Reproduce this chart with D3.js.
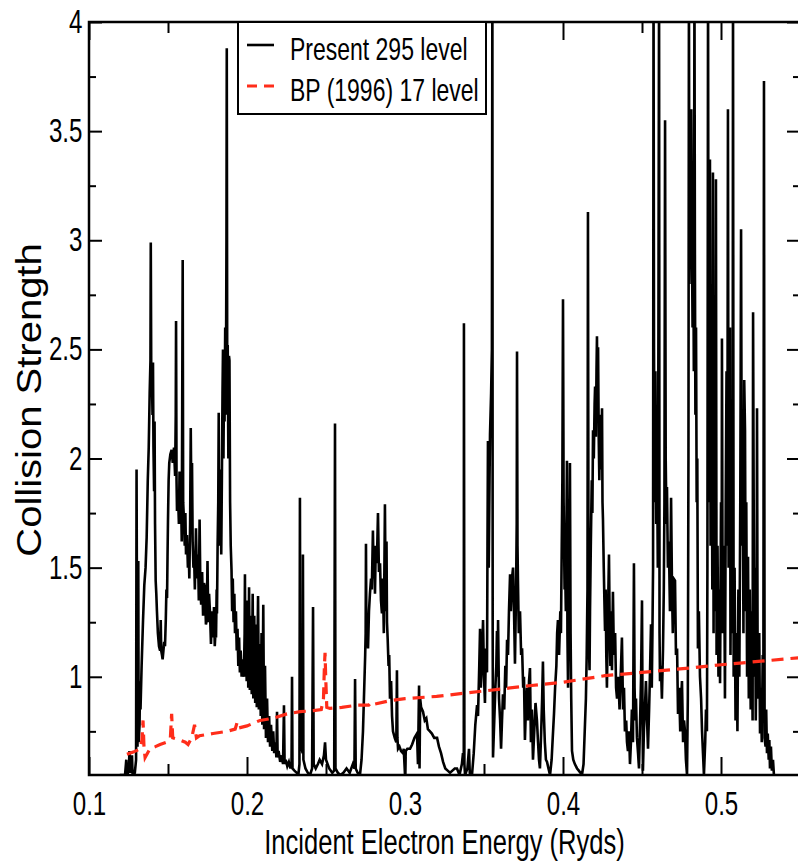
<!DOCTYPE html>
<html lang="en">
<head>
<meta charset="utf-8">
<title>Collision Strength</title>
<script src="https://d3js.org/d3.v7.min.js"></script>
<style>
    body { margin: 0; background: #fff; }
    svg text { font-family: "Liberation Sans", Arial, Helvetica, sans-serif; fill: #000; }
    .frame { fill: none; stroke: #000; stroke-width: 2.5px; }
    .tick line { stroke: #000; stroke-width: 2px; }
    .domain { display: none; }
    .present { fill: none; stroke: #000; stroke-width: 2.6px; }
    .bp { fill: none; stroke: #ff2d1a; stroke-width: 3.2px; stroke-dasharray: 12 7; }
</style>
</head>
<body>
<div id="chart"></div>
<script>
var xTicks = [0.1, 0.2, 0.3, 0.4, 0.5];
var xMinor = [0.15, 0.25, 0.35, 0.45];
var yTicks = [1, 1.5, 2, 2.5, 3, 3.5, 4];
var yMinor = [0.75, 1.25, 1.75, 2.25, 2.75, 3.25, 3.75];
var legendLabels = ["Present 295 level", "BP (1996) 17 level"];

// [energy (Ryd), collision strength]
var present295 = [
[0.1195,0.55],[0.1228,0.55],[0.1236,0.62],[0.1241,0.55],[0.1252,0.57],[0.1256,0.66],[0.1260,0.56],[0.1268,0.60],[0.1272,0.64],[0.1276,0.55],
[0.1290,0.56],[0.1298,0.62],[0.1301,1.95],[0.1304,1.20],[0.1307,0.68],[0.1312,1.53],[0.1314,0.70],[0.1320,0.78],[0.1323,0.98],[0.1326,0.85],
[0.1333,1.05],[0.1342,1.26],[0.1350,1.42],[0.1358,1.50],[0.1365,1.64],[0.1372,1.90],[0.1378,2.05],[0.1384,2.30],[0.1389,2.45],[0.1391,2.99],
[0.1394,2.40],[0.1398,2.38],[0.1402,2.20],[0.1405,2.44],[0.1408,2.05],[0.1412,1.85],[0.1415,2.17],[0.1418,1.70],[0.1422,1.44],[0.1426,1.38],
[0.1430,1.30],[0.1436,1.20],[0.1443,1.14],[0.1450,1.12],[0.1454,1.26],[0.1457,1.12],[0.1462,1.10],[0.1466,1.08],[0.1471,1.12],[0.1476,1.16],
[0.1481,1.14],[0.1486,1.26],[0.1490,1.40],[0.1494,1.36],[0.1497,1.55],[0.1500,1.72],[0.1504,1.90],[0.1508,1.98],[0.1515,2.02],[0.1523,2.04],
[0.1530,1.98],[0.1538,2.05],[0.1545,1.92],[0.1549,2.20],[0.1551,2.63],[0.1554,1.90],[0.1557,1.76],[0.1563,1.84],[0.1569,1.70],[0.1573,1.94],
[0.1577,1.78],[0.1582,1.86],[0.1587,1.62],[0.1590,2.25],[0.1593,2.91],[0.1596,1.80],[0.1601,1.72],[0.1606,1.60],[0.1610,1.75],[0.1614,1.56],
[0.1620,1.65],[0.1626,1.50],[0.1630,1.60],[0.1635,1.45],[0.1640,1.70],[0.1644,2.14],[0.1648,1.80],[0.1652,1.98],[0.1656,1.62],[0.1661,1.50],
[0.1665,1.56],[0.1670,1.40],[0.1677,1.68],[0.1683,1.45],[0.1690,1.56],[0.1695,1.35],[0.1700,1.72],[0.1705,1.40],[0.1710,1.33],[0.1716,1.48],
[0.1722,1.28],[0.1728,1.43],[0.1734,1.41],[0.1740,1.24],[0.1745,1.26],[0.1750,1.53],[0.1755,1.25],[0.1760,1.38],[0.1766,1.29],[0.1772,1.15],
[0.1778,1.30],[0.1783,1.18],[0.1788,1.22],[0.1791,1.32],[0.1796,1.14],[0.1800,1.20],[0.1804,1.18],[0.1808,1.40],[0.1810,1.29],[0.1814,1.60],
[0.1818,1.80],[0.1821,2.21],[0.1824,1.60],[0.1827,1.95],[0.1830,1.72],[0.1834,1.85],[0.1837,1.56],[0.1841,1.90],[0.1845,2.30],[0.1848,2.50],
[0.1851,2.00],[0.1855,2.40],[0.1858,2.17],[0.1862,2.60],[0.1866,2.20],[0.1870,3.00],[0.1872,3.88],[0.1875,2.30],[0.1878,2.52],[0.1882,2.00],
[0.1886,2.47],[0.1889,2.45],[0.1893,1.80],[0.1897,1.60],[0.1902,1.49],[0.1906,1.30],[0.1910,1.45],[0.1915,1.25],[0.1920,1.38],[0.1924,1.20],
[0.1930,1.30],[0.1935,1.12],[0.1940,1.22],[0.1945,1.05],[0.1950,1.18],[0.1955,1.02],[0.1960,1.12],[0.1966,1.00],[0.1972,1.08],[0.1980,1.00],
[0.1985,1.20],[0.1987,1.47],[0.1990,1.00],[0.1995,1.10],[0.1998,0.98],[0.2004,1.35],[0.2008,0.95],[0.2013,1.41],[0.2018,0.94],[0.2024,1.28],
[0.2030,0.92],[0.2036,1.38],[0.2040,0.90],[0.2046,1.28],[0.2052,0.88],[0.2057,1.24],[0.2062,0.86],[0.2070,1.37],[0.2075,0.85],[0.2080,1.15],
[0.2087,0.82],[0.2092,1.20],[0.2097,0.78],[0.2103,1.33],[0.2108,0.76],[0.2114,1.05],[0.2120,0.72],[0.2127,0.90],[0.2133,0.70],[0.2140,0.82],
[0.2146,0.68],[0.2152,0.78],[0.2160,0.66],[0.2166,0.75],[0.2172,0.65],[0.2180,0.70],[0.2186,0.63],[0.2190,0.84],[0.2194,0.63],[0.2200,0.66],
[0.2210,0.61],[0.2220,0.64],[0.2228,0.60],[0.2234,0.87],[0.2238,0.60],[0.2245,0.62],[0.2255,0.59],[0.2265,0.61],[0.2275,0.58],[0.2282,0.60],
[0.2285,1.00],[0.2288,0.58],[0.2300,0.57],[0.2315,0.56],[0.2325,0.55],[0.2332,0.60],[0.2335,1.82],[0.2338,0.70],[0.2352,0.65],[0.2354,1.56],
[0.2357,0.62],[0.2370,0.58],[0.2385,0.56],[0.2399,0.55],[0.2412,0.58],[0.2418,1.32],[0.2422,0.60],[0.2435,0.58],[0.2449,0.60],[0.2460,0.62],
[0.2475,0.60],[0.2487,0.64],[0.2494,0.70],[0.2500,0.62],[0.2520,0.58],[0.2540,0.56],[0.2552,0.57],[0.2557,2.16],[0.2560,0.58],[0.2575,0.56],
[0.2590,0.55],[0.2610,0.56],[0.2630,0.58],[0.2650,0.56],[0.2670,0.60],[0.2680,0.58],[0.2684,0.99],[0.2688,0.58],[0.2700,0.56],[0.2715,0.55],
[0.2725,0.62],[0.2734,0.75],[0.2740,0.90],[0.2748,1.10],[0.2751,1.20],[0.2753,1.61],[0.2756,1.15],[0.2762,1.25],[0.2766,1.13],[0.2772,1.30],
[0.2778,1.38],[0.2785,1.45],[0.2790,1.40],[0.2797,1.67],[0.2802,1.45],[0.2806,1.55],[0.2810,1.38],[0.2815,1.60],[0.2822,1.52],[0.2829,1.75],
[0.2835,1.48],[0.2842,1.52],[0.2848,1.35],[0.2854,1.29],[0.2860,1.45],[0.2866,1.20],[0.2873,1.79],[0.2878,1.30],[0.2883,1.62],[0.2886,1.25],
[0.2890,1.18],[0.2896,1.05],[0.2900,1.10],[0.2905,0.90],[0.2912,0.98],[0.2918,0.82],[0.2924,0.75],[0.2935,0.72],[0.2945,0.70],[0.2949,1.03],
[0.2952,0.72],[0.2956,0.67],[0.2965,0.68],[0.2975,0.66],[0.2987,0.65],[0.2992,0.67],[0.3000,0.55],[0.3005,0.66],[0.3015,0.67],[0.3032,0.67],
[0.3045,0.69],[0.3060,0.72],[0.3076,0.74],[0.3082,0.60],[0.3089,0.96],[0.3092,0.58],[0.3096,0.90],[0.3102,0.86],[0.3114,0.84],[0.3125,0.80],
[0.3135,0.81],[0.3145,0.76],[0.3158,0.75],[0.3170,0.74],[0.3185,0.72],[0.3203,0.72],[0.3215,0.68],[0.3228,0.65],[0.3241,0.61],[0.3255,0.58],
[0.3270,0.57],[0.3285,0.56],[0.3300,0.57],[0.3315,0.58],[0.3329,0.58],[0.3345,0.55],[0.3360,0.60],[0.3367,0.65],[0.3372,0.62],[0.3373,2.62],
[0.3376,0.60],[0.3380,0.55],[0.3395,0.58],[0.3405,0.67],[0.3410,0.56],[0.3424,0.55],[0.3435,0.65],[0.3445,0.78],[0.3456,0.87],[0.3462,0.82],
[0.3470,1.05],[0.3475,1.22],[0.3480,0.95],[0.3488,1.10],[0.3494,1.26],[0.3500,1.00],[0.3506,0.88],[0.3512,1.13],[0.3519,1.02],[0.3522,1.60],
[0.3525,2.08],[0.3530,1.50],[0.3535,1.90],[0.3538,2.11],[0.3545,2.30],[0.3550,2.50],[0.3553,4.20],[0.3555,1.20],[0.3557,0.63],[0.3565,0.80],
[0.3572,0.95],[0.3578,1.05],[0.3582,1.21],[0.3586,1.00],[0.3589,1.26],[0.3595,0.90],[0.3602,0.80],[0.3608,0.67],[0.3614,0.80],[0.3620,0.92],
[0.3628,0.85],[0.3635,1.05],[0.3640,0.95],[0.3646,1.17],[0.3652,1.10],[0.3658,1.30],[0.3665,1.47],[0.3670,1.30],[0.3677,1.45],[0.3684,1.50],
[0.3690,1.30],[0.3696,1.06],[0.3703,1.40],[0.3707,1.70],[0.3709,2.49],[0.3712,1.60],[0.3715,1.44],[0.3720,1.20],[0.3728,1.30],[0.3735,1.10],
[0.3741,1.13],[0.3748,0.95],[0.3753,1.00],[0.3759,0.71],[0.3765,0.85],[0.3772,0.95],[0.3778,0.80],[0.3785,0.98],[0.3791,1.04],[0.3797,0.70],
[0.3803,0.85],[0.3810,0.62],[0.3818,0.75],[0.3826,0.88],[0.3835,0.80],[0.3842,0.70],[0.3848,0.62],[0.3854,0.58],[0.3862,0.75],[0.3868,0.90],
[0.3873,1.07],[0.3878,0.85],[0.3885,0.70],[0.3892,0.62],[0.3899,0.61],[0.3908,0.58],[0.3918,0.55],[0.3928,0.62],[0.3935,0.72],[0.3943,0.83],
[0.3950,0.95],[0.3958,1.05],[0.3963,1.20],[0.3968,1.26],[0.3975,1.10],[0.3983,1.30],[0.3987,1.20],[0.3992,1.60],[0.3996,1.90],[0.4000,2.73],
[0.4004,1.80],[0.4010,1.40],[0.4013,1.52],[0.4018,1.30],[0.4022,1.70],[0.4025,1.99],[0.4028,1.20],[0.4032,0.95],[0.4036,1.40],[0.4040,1.60],
[0.4044,1.98],[0.4048,1.20],[0.4052,0.90],[0.4057,0.66],[0.4065,0.62],[0.4075,0.60],[0.4089,0.58],[0.4100,0.57],[0.4110,0.56],[0.4120,0.55],
[0.4130,0.60],[0.4139,0.78],[0.4145,0.90],[0.4150,1.10],[0.4155,1.40],[0.4158,3.13],[0.4162,1.20],[0.4168,1.03],[0.4171,1.30],[0.4176,1.60],
[0.4182,1.90],[0.4186,1.75],[0.4190,2.13],[0.4195,2.00],[0.4200,2.25],[0.4203,2.33],[0.4208,2.10],[0.4212,2.40],[0.4215,2.56],[0.4218,2.20],
[0.4222,2.51],[0.4226,2.10],[0.4230,1.90],[0.4234,2.20],[0.4238,1.95],[0.4243,2.00],[0.4247,2.23],[0.4250,1.80],[0.4253,1.72],[0.4258,1.50],
[0.4262,1.35],[0.4266,1.21],[0.4270,1.40],[0.4274,1.10],[0.4278,0.95],[0.4284,1.25],[0.4291,1.56],[0.4296,1.20],[0.4300,1.05],[0.4305,1.30],
[0.4310,1.03],[0.4316,1.39],[0.4322,1.10],[0.4330,1.20],[0.4336,0.95],[0.4342,0.90],[0.4350,1.00],[0.4358,0.85],[0.4365,1.00],[0.4373,1.18],
[0.4380,0.85],[0.4386,0.95],[0.4392,0.75],[0.4400,0.80],[0.4405,0.70],[0.4411,0.66],[0.4418,0.75],[0.4424,0.60],[0.4430,0.70],[0.4436,0.85],
[0.4443,0.70],[0.4449,1.52],[0.4453,0.95],[0.4458,0.80],[0.4462,0.90],[0.4468,0.72],[0.4475,0.65],[0.4481,0.58],[0.4488,0.80],[0.4494,1.00],
[0.4500,1.35],[0.4503,0.90],[0.4506,0.57],[0.4512,0.75],[0.4518,0.85],[0.4525,0.98],[0.4532,0.80],[0.4538,0.67],[0.4545,0.85],[0.4550,1.00],
[0.4557,1.24],[0.4562,0.95],[0.4566,1.20],[0.4570,1.50],[0.4573,4.20],[0.4576,2.50],[0.4580,1.80],[0.4585,2.40],[0.4590,1.70],[0.4595,2.05],
[0.4600,1.50],[0.4604,2.60],[0.4608,4.20],[0.4611,1.20],[0.4614,0.98],[0.4620,1.05],[0.4626,0.90],[0.4633,1.13],[0.4638,1.40],[0.4642,1.80],
[0.4646,3.55],[0.4650,2.00],[0.4655,1.70],[0.4658,1.87],[0.4664,1.50],[0.4670,1.62],[0.4677,1.30],[0.4684,1.82],[0.4690,1.40],[0.4695,1.20],
[0.4700,1.45],[0.4709,1.44],[0.4715,1.10],[0.4722,1.13],[0.4728,0.83],[0.4735,0.95],[0.4742,0.75],[0.4748,0.90],[0.4753,0.98],[0.4760,0.70],
[0.4766,0.80],[0.4772,0.75],[0.4778,0.62],[0.4785,0.55],[0.4790,0.90],[0.4794,2.00],[0.4797,4.20],[0.4800,2.80],[0.4804,3.20],[0.4808,2.99],
[0.4812,3.60],[0.4816,2.99],[0.4820,2.60],[0.4824,3.10],[0.4828,2.40],[0.4832,4.20],[0.4835,2.88],[0.4838,2.20],[0.4842,2.60],[0.4846,1.80],
[0.4850,2.00],[0.4854,1.13],[0.4860,1.30],[0.4867,1.00],[0.4874,0.90],[0.4880,0.75],[0.4886,0.65],[0.4892,0.55],[0.4900,0.70],[0.4905,0.85],
[0.4911,0.75],[0.4914,1.50],[0.4918,4.20],[0.4922,1.80],[0.4926,3.00],[0.4930,3.37],[0.4934,1.60],[0.4940,2.80],[0.4945,1.40],[0.4949,3.31],
[0.4953,1.20],[0.4958,2.60],[0.4963,1.30],[0.4968,3.28],[0.4972,1.10],[0.4978,1.60],[0.4984,1.00],[0.4990,1.40],[0.4994,0.97],[0.5000,1.80],
[0.5004,1.20],[0.5006,2.55],[0.5010,1.40],[0.5015,1.20],[0.5020,1.60],[0.5025,0.90],[0.5030,1.80],[0.5035,2.40],[0.5040,1.60],[0.5044,3.60],
[0.5048,1.50],[0.5052,2.20],[0.5057,2.60],[0.5060,1.10],[0.5065,1.80],[0.5070,1.20],[0.5074,2.00],[0.5076,4.20],[0.5080,1.00],[0.5086,1.50],
[0.5092,0.80],[0.5098,1.20],[0.5104,0.75],[0.5110,1.40],[0.5116,1.00],[0.5122,1.80],[0.5127,3.05],[0.5132,1.60],[0.5137,2.20],[0.5142,1.20],
[0.5147,2.36],[0.5152,2.13],[0.5156,1.30],[0.5160,1.80],[0.5165,1.00],[0.5171,1.55],[0.5176,0.90],[0.5182,1.40],[0.5188,0.85],[0.5194,1.30],
[0.5200,0.80],[0.5203,2.67],[0.5207,1.78],[0.5211,1.00],[0.5216,1.50],[0.5220,0.80],[0.5225,1.20],[0.5228,2.23],[0.5232,1.00],[0.5237,0.90],
[0.5242,1.20],[0.5247,0.74],[0.5252,0.95],[0.5258,0.70],[0.5264,1.10],[0.5268,0.80],[0.5272,3.73],[0.5276,0.72],[0.5282,0.68],[0.5286,0.85],
[0.5291,0.65],[0.5296,0.74],[0.5302,0.62],[0.5306,0.71],[0.5310,0.58],[0.5316,0.68],[0.5322,0.57],[0.5329,0.62],[0.5335,0.55]
];

var bp17 = [
[0.1240,0.645],[0.1280,0.655],[0.1310,0.665],[0.1323,0.67],[0.1335,0.71],[0.1342,0.80],[0.1348,0.68],[0.1355,0.63],[0.1370,0.65],[0.1386,0.67],
[0.1420,0.68],[0.1450,0.69],[0.1490,0.70],[0.1515,0.72],[0.1523,0.83],[0.1530,0.72],[0.1576,0.71],[0.1610,0.70],[0.1627,0.69],[0.1650,0.72],
[0.1668,0.78],[0.1680,0.72],[0.1700,0.73],[0.1785,0.74],[0.1873,0.75],[0.1925,0.76],[0.1937,0.79],[0.1945,0.765],[0.2000,0.775],[0.2082,0.80],
[0.2165,0.81],[0.2253,0.83],[0.2335,0.84],[0.2420,0.845],[0.2470,0.85],[0.2484,0.90],[0.2490,1.05],[0.2494,1.11],[0.2498,1.00],[0.2505,0.86],
[0.2525,0.855],[0.2600,0.86],[0.2700,0.87],[0.2770,0.87],[0.2790,0.885],[0.2810,0.875],[0.2900,0.89],[0.3000,0.90],[0.3200,0.91],[0.3500,0.935],
[0.3800,0.96],[0.4000,0.975],[0.4266,1.005],[0.4500,1.02],[0.4800,1.04],[0.5000,1.055],[0.5200,1.068],[0.5490,1.087],[0.5500,1.088]
];

var svgW = 798, svgH = 865;
var margin = {top: 22, left: 89},
    width = 711,
    height = 753;
var squeeze = "scale(0.73,1)";

var svg = d3.select("#chart")
    .append("svg")
        .attr("width", svgW)
        .attr("height", svgH)
    .append("g")
        .attr("transform", "translate(" + margin.left + "," + margin.top + ")");

var x = d3.scaleLinear().domain([0.1, 0.55]).range([0, width]);
var y = d3.scaleLinear().domain([0.55, 4]).range([height, 0]);

svg.append("clipPath").attr("id", "plotClip")
    .append("rect").attr("width", width).attr("height", height);

var line = d3.line()
    .x(function(d) { return x(d[0]); })
    .y(function(d) { return y(d[1]); });

var plot = svg.append("g").attr("clip-path", "url(#plotClip)");
plot.append("path").datum(present295).attr("class", "present").attr("d", line);
plot.append("path").datum(bp17).attr("class", "bp").attr("d", line);

// axes: ticks point inward on all four sides
svg.append("g")
    .attr("transform", "translate(0," + height + ")")
    .call(d3.axisBottom(x).tickValues(xTicks).tickSizeInner(-18).tickSizeOuter(0)
        .tickPadding(17).tickFormat(d3.format(".1f")))
    .call(function(g) {
        g.selectAll("text").attr("font-size", 33).attr("transform", squeeze);
    });
svg.append("g")
    .attr("transform", "translate(0," + height + ")")
    .call(d3.axisBottom(x).tickValues(xMinor).tickSizeInner(-11).tickSizeOuter(0).tickFormat(""));
svg.append("g")
    .call(d3.axisTop(x).tickValues(xTicks).tickSizeInner(-18).tickSizeOuter(0).tickFormat(""));
svg.append("g")
    .call(d3.axisTop(x).tickValues(xMinor).tickSizeInner(-11).tickSizeOuter(0).tickFormat(""));

svg.append("g")
    .call(d3.axisLeft(y).tickValues(yTicks).tickSizeInner(-13).tickSizeOuter(0)
        .tickPadding(9).tickFormat(function(d) { return String(d); }))
    .call(function(g) {
        g.selectAll("text").attr("font-size", 33).attr("transform", squeeze);
    });
svg.append("g")
    .call(d3.axisLeft(y).tickValues(yMinor).tickSizeInner(-7).tickSizeOuter(0).tickFormat(""));
svg.append("g")
    .attr("transform", "translate(" + width + ",0)")
    .call(d3.axisRight(y).tickValues(yTicks).tickSizeInner(-13).tickSizeOuter(0).tickFormat(""));
svg.append("g")
    .attr("transform", "translate(" + width + ",0)")
    .call(d3.axisRight(y).tickValues(yMinor).tickSizeInner(-7).tickSizeOuter(0).tickFormat(""));

svg.append("rect")
    .attr("class", "frame")
    .attr("width", width)
    .attr("height", height);

// axis titles
svg.append("text")
    .attr("transform", "translate(" + (width / 2) + "," + (height + 79) + ") " + squeeze)
    .attr("text-anchor", "middle")
    .attr("font-size", 35)
    .text("Incident Electron Energy (Ryds)");

svg.append("text")
    .attr("transform", "translate(" + (41 - margin.left) + "," + (400 - margin.top) + ") scale(0.87,1) rotate(-90)")
    .attr("text-anchor", "middle")
    .attr("font-size", 40)
    .text("Collision Strength");

// legend
var legend = svg.append("g").attr("transform", "translate(" + (238 - margin.left) + ",0)");
legend.append("rect")
    .attr("width", 248).attr("height", 92)
    .attr("fill", "#fff").attr("stroke", "#000").attr("stroke-width", 2);
var legendStyles = [
    {cls: "present", dash: null},
    {cls: "bp", dash: "10 7"}
];
legendLabels.forEach(function(label, i) {
    var ly = 23 + i * 41;
    legend.append("line")
        .attr("class", legendStyles[i].cls)
        .attr("x1", 9).attr("x2", 36)
        .attr("y1", ly).attr("y2", ly)
        .style("stroke-dasharray", legendStyles[i].dash);
    legend.append("text")
        .attr("transform", "translate(52," + (ly + 15) + ") " + squeeze)
        .attr("font-size", 31.5)
        .text(label);
});
</script>
</body>
</html>
